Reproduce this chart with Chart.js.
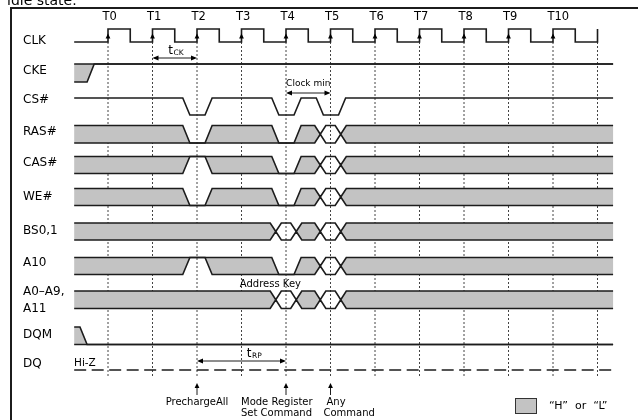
<!DOCTYPE html>
<html>
<head>
<meta charset="utf-8">
<script src="https://cdn.jsdelivr.net/npm/chart.js@4.4.1/dist/chart.umd.min.js"></script>
<style>
  html, body { margin: 0; padding: 0; background: #fff; overflow: hidden; }
  #wrap { width: 638px; height: 420px; position: relative; }
</style>
</head>
<body>
<div id="wrap"><canvas id="timing" width="638" height="420"></canvas></div>
<script>
// ---- Clock cycles ----
const cycleLabels = ['T0', 'T1', 'T2', 'T3', 'T4', 'T5', 'T6', 'T7', 'T8', 'T9', 'T10'];
const cycleTimes = [0, 1, 2, 3, 4, 5, 6, 7, 8, 9, 10];
const gridTimes = [0, 1, 2, 3, 4, 5, 6, 7, 8, 9, 10, 11];

// ---- Waveforms: [time in clock periods, state]; first entry is the initial state.
// States: H = high, L = low, X = "H" or "L" (don't care), V = valid value
const clkWave = [[-0.76, 'L'], [0, 'H'], [0.5, 'L'], [1, 'H'], [1.5, 'L'], [2, 'H'], [2.5, 'L'],
  [3, 'H'], [3.5, 'L'], [4, 'H'], [4.5, 'L'], [5, 'H'], [5.5, 'L'], [6, 'H'], [6.5, 'L'],
  [7, 'H'], [7.5, 'L'], [8, 'H'], [8.5, 'L'], [9, 'H'], [9.5, 'L'], [10, 'H'], [10.5, 'L'], [11, 'H']];
const ckeWave = [[-0.76, 'X'], [-0.47, 'H']];
const csWave = [[-0.76, 'H'], [1.68, 'L'], [2.18, 'H'], [3.68, 'L'], [4.18, 'H'], [4.68, 'L'], [5.18, 'H']];
const rasWave = [[-0.76, 'X'], [1.68, 'L'], [2.18, 'X'], [3.68, 'L'], [4.18, 'X'], [4.645, 'V'], [5.105, 'X']];
const casWave = [[-0.76, 'X'], [1.68, 'H'], [2.18, 'X'], [3.68, 'L'], [4.18, 'X'], [4.645, 'V'], [5.105, 'X']];
const weWave = [[-0.76, 'X'], [1.68, 'L'], [2.18, 'X'], [3.68, 'L'], [4.18, 'X'], [4.645, 'V'], [5.105, 'X']];
const bsWave = [[-0.76, 'X'], [3.645, 'V'], [4.105, 'X'], [4.645, 'V'], [5.105, 'X']];
const a10Wave = [[-0.76, 'X'], [1.68, 'H'], [2.18, 'X'], [3.68, 'L'], [4.18, 'X'], [4.645, 'V'], [5.105, 'X']];
const addrWave = [[-0.76, 'X'], [3.645, 'V'], [4.105, 'X'], [4.645, 'V'], [5.105, 'X']];
const dqmWave = [[-0.76, 'X'], [-0.63, 'L']];
const dqSpan = [-0.76, 11.35];

const signalNames = ['CLK', 'CKE', 'CS#', 'RAS#', 'CAS#', 'WE#', 'BS0,1', 'A10', 'A0\u2013A9,', 'DQM', 'DQ'];
const waves = [clkWave, ckeWave, csWave, rasWave, casWave, weWave, bsWave, a10Wave, addrWave, dqmWave];
const waveEnds = [11, 11.35, 11.35, 11.35, 11.35, 11.35, 11.35, 11.35, 11.35, 11.35];

// ---- Annotations ----
const commandTimes = [2, 4, 5];
const commandNotes = [['PrechargeAll'], ['Mode Register', 'Set Command'], ['Any', 'Command']];
const tckSpan = [1, 2];
const clockMinSpan = [4, 5];
const trpSpan = [2, 4];

// ---- Layout (pixel rows, the y axis runs 0..420 top-down) ----
const ROW = [
  { hi: 29, lo: 42, ly: 41 },      // CLK
  { hi: 64, lo: 82, ly: 71 },      // CKE
  { hi: 98, lo: 115, ly: 100 },    // CS#
  { hi: 125.5, lo: 143, ly: 132 }, // RAS#
  { hi: 156.5, lo: 173.5, ly: 163 },// CAS#
  { hi: 188.5, lo: 205.5, ly: 197 },// WE#
  { hi: 223, lo: 240, ly: 231 },   // BS0,1
  { hi: 257.5, lo: 274.5, ly: 263 },// A10
  { hi: 291, lo: 308.5, ly: 292 }, // A0-A9, A11
  { hi: 327, lo: 344.5, ly: 335 }, // DQM
  { hi: 370, lo: 370, ly: 364 }    // DQ
];
const EDGE_W = 0.16;   // slope width of a level edge, in clock periods
const CROSS_W = 0.25;  // width of a bus crossing
const INK = '#1c1c1c';
const GRAY = '#c3c3c3';
const FONT = '"DejaVu Sans", Verdana, sans-serif';

function buildWave(wave, row, edgeW, end) {
  const isBus = s => s === 'X' || s === 'V';
  const yu = s => (s === 'L' ? row.lo : row.hi);
  const yl = s => (s === 'H' ? row.hi : row.lo);
  const mid = (row.hi + row.lo) / 2;
  const start = wave[0][0];
  let prev = wave[0][1];
  const up = [{ x: start, y: yu(prev) }];
  const lo = [{ x: start, y: yl(prev) }];
  const trans = [];
  for (let i = 1; i < wave.length; i++) {
    const [t, s] = wave[i];
    const cross = isBus(prev) && isBus(s);
    const w = cross ? CROSS_W : edgeW;
    up.push({ x: t, y: yu(prev) }); lo.push({ x: t, y: yl(prev) });
    if (cross) { up.push({ x: t + w / 2, y: mid }); lo.push({ x: t + w / 2, y: mid }); }
    up.push({ x: t + w, y: yu(s) }); lo.push({ x: t + w, y: yl(s) });
    trans.push({ a: t, b: t + w, c: t + w / 2, cross });
    prev = s;
  }
  if (end > up[up.length - 1].x) {
    up.push({ x: end, y: yu(prev) }); lo.push({ x: end, y: yl(prev) });
  }
  const polys = [];
  wave.forEach(([, s], k) => {
    if (s !== 'X') return;
    const L = k === 0 ? start : (trans[k - 1].cross ? trans[k - 1].c : trans[k - 1].a);
    const R = k === wave.length - 1 ? end : (trans[k].cross ? trans[k].c : trans[k].b);
    const inside = p => p.x >= L - 1e-9 && p.x <= R + 1e-9;
    const pts = up.filter(inside).concat(lo.filter(inside).reverse());
    pts.push({ ...pts[0] });
    polys.push(pts);
  });
  const levelOnly = wave.every(([, s]) => s === 'H' || s === 'L');
  return { up, lo, polys, levelOnly };
}

const datasets = [];
// dotted cycle markers
gridTimes.forEach(t => datasets.push({
  data: [{ x: t, y: 42 }, { x: t, y: 378 }],
  borderColor: '#444', borderWidth: 1, borderDash: [2, 2], order: 30
}));
waves.forEach((wave, i) => {
  const w = buildWave(wave, ROW[i], i === 0 ? 0 : EDGE_W, waveEnds[i]);
  w.polys.forEach(p => datasets.push({
    data: p, fill: 'shape', backgroundColor: GRAY,
    borderColor: 'rgba(0,0,0,0)', borderWidth: 0, order: 20
  }));
  datasets.push({ data: w.up, borderColor: INK, borderWidth: 1.6, order: 10 });
  if (!w.levelOnly) datasets.push({ data: w.lo, borderColor: INK, borderWidth: 1.6, order: 10 });
});
// DQ in high impedance
datasets.push({
  data: [{ x: dqSpan[0], y: ROW[10].hi }, { x: dqSpan[1], y: ROW[10].hi }],
  borderColor: INK, borderWidth: 1.6, borderDash: [12, 5.5], order: 10
});

function head(ctx, x, y, dir) {
  ctx.beginPath();
  if (dir === 'r') { ctx.moveTo(x, y); ctx.lineTo(x - 6, y - 2.6); ctx.lineTo(x - 6, y + 2.6); }
  if (dir === 'l') { ctx.moveTo(x, y); ctx.lineTo(x + 6, y - 2.6); ctx.lineTo(x + 6, y + 2.6); }
  if (dir === 'u') { ctx.moveTo(x, y); ctx.lineTo(x - 2.4, y + 5); ctx.lineTo(x + 2.4, y + 5); }
  ctx.closePath();
  ctx.fill();
}
function dimension(ctx, x1, x2, y) {
  ctx.beginPath(); ctx.moveTo(x1 + 2, y); ctx.lineTo(x2 - 2, y); ctx.stroke();
  head(ctx, x1, y, 'l'); head(ctx, x2, y, 'r');
}
function subText(ctx, main, sub, cx, cy) {
  ctx.font = '12px ' + FONT;
  const w1 = ctx.measureText(main).width;
  ctx.font = '7.5px ' + FONT;
  const w2 = ctx.measureText(sub).width;
  const x0 = cx - (w1 + w2) / 2;
  ctx.textAlign = 'left';
  ctx.font = '12px ' + FONT;
  ctx.fillText(main, x0, cy);
  ctx.font = '7.5px ' + FONT;
  ctx.fillText(sub, x0 + w1 + 0.5, cy + 2.5);
}

const decorations = {
  id: 'decorations',
  afterDatasetsDraw(chart) {
    const ctx = chart.ctx;
    const X = t => chart.scales.x.getPixelForValue(t);
    const Y = v => chart.scales.y.getPixelForValue(v);
    ctx.save();
    ctx.fillStyle = '#000';
    ctx.strokeStyle = INK;

    // heading remnant and frame
    ctx.font = '14px ' + FONT;
    ctx.textBaseline = 'alphabetic';
    ctx.textAlign = 'left';
    ctx.fillText('idle state.', 7, 5);
    ctx.lineWidth = 2;
    ctx.beginPath();
    ctx.moveTo(11, 8); ctx.lineTo(638, 8);
    ctx.moveTo(11, 7); ctx.lineTo(11, 420);
    ctx.stroke();

    // cycle labels
    ctx.textBaseline = 'middle';
    ctx.font = '11.5px ' + FONT;
    cycleLabels.forEach((lab, i) => ctx.fillText(lab, X(cycleTimes[i]) - 5.5, Y(17)));

    // clock edge arrowheads
    cycleTimes.forEach(t => head(ctx, X(t), Y(33.5), 'u'));

    // signal names
    ctx.font = '12px ' + FONT;
    signalNames.forEach((n, i) => ctx.fillText(n, 23, Y(ROW[i].ly)));
    ctx.fillText('A11', 23, Y(309));

    // timing dimensions
    ctx.lineWidth = 1;
    dimension(ctx, X(tckSpan[0]), X(tckSpan[1]), Y(58));
    subText(ctx, 't', 'CK', X(1.52), Y(51));
    dimension(ctx, X(clockMinSpan[0]), X(clockMinSpan[1]), Y(93));
    ctx.font = '9px ' + FONT;
    ctx.textAlign = 'center';
    ctx.fillText('Clock min', (X(clockMinSpan[0]) + X(clockMinSpan[1])) / 2, Y(84));
    dimension(ctx, X(trpSpan[0]), X(trpSpan[1]), Y(361));
    subText(ctx, 't', 'RP', X(3.28), Y(354));

    ctx.font = '10px ' + FONT;
    ctx.textAlign = 'center';
    ctx.fillText('Address Key', X(3.65), Y(284));
    ctx.textAlign = 'left';
    ctx.font = '10.5px ' + FONT;
    ctx.fillText('Hi-Z', 74, Y(363));

    // command markers
    ctx.font = '10px ' + FONT;
    commandTimes.forEach((t, i) => {
      const x = X(t);
      ctx.beginPath(); ctx.moveTo(x, Y(386)); ctx.lineTo(x, Y(395)); ctx.stroke();
      head(ctx, x, Y(383), 'u');
      const lines = commandNotes[i];
      if (i === 0) {
        ctx.textAlign = 'center';
        ctx.fillText(lines[0], x, Y(402));
      } else {
        ctx.textAlign = 'left';
        const lx = i === 1 ? x - 45 : x - 7;
        lines.forEach((s, j) => ctx.fillText(s, lx + (i === 2 && j === 0 ? 3 : 0), Y(402 + j * 11.5)));
      }
    });

    // legend
    ctx.fillStyle = GRAY;
    ctx.fillRect(515.5, 398.5, 21, 15);
    ctx.lineWidth = 1;
    ctx.strokeStyle = '#333';
    ctx.strokeRect(515.5, 398.5, 21, 15);
    ctx.fillStyle = '#000';
    ctx.textAlign = 'left';
    ctx.font = '11px ' + FONT;
    ctx.fillText('\u201CH\u201D  or  \u201CL\u201D', 549, 406);
    ctx.restore();
  }
};

new Chart(document.getElementById('timing'), {
  type: 'line',
  data: { datasets },
  options: {
    responsive: false,
    animation: false,
    events: [],
    layout: { padding: 0 },
    elements: { point: { radius: 0 }, line: { tension: 0, borderJoinStyle: 'miter', fill: false } },
    scales: {
      x: { type: 'linear', display: false, min: -2.427, max: 11.91 },
      y: { type: 'linear', display: false, min: 0, max: 420, reverse: true }
    },
    plugins: { legend: { display: false }, tooltip: { enabled: false } }
  },
  plugins: [decorations]
});
</script>
</body>
</html>
